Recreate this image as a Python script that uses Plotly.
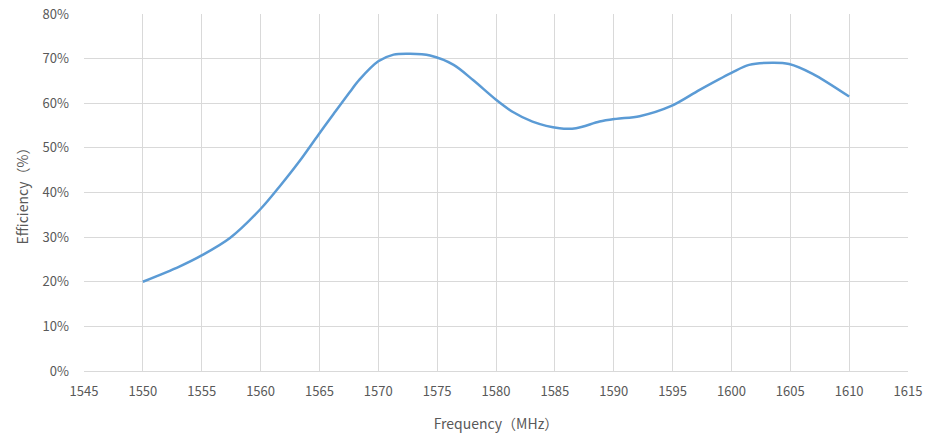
import plotly.graph_objects as go

frequency_mhz = [1550, 1553.1, 1555, 1557.4, 1560, 1561.6, 1563.3, 1564.9, 1566.2, 1567.6,
                 1568.4, 1570, 1571.3, 1572.7, 1574.4, 1576.4, 1578.05, 1580.0, 1581.4, 1583.1,
                 1585.4, 1586.8, 1588.8, 1590.2, 1592.2, 1594.9, 1597.3, 1600.0, 1601.5, 1603.5,
                 1604.9, 1606.9, 1610]
efficiency_pct = [20.0, 23.4, 25.9, 29.8, 36.3, 41.3, 47.0, 52.9, 57.6, 62.6,
                  65.3, 69.4, 70.9, 71.1, 70.7, 68.6, 65.2, 60.8, 58.1, 55.9,
                  54.4, 54.4, 55.9, 56.5, 57.1, 59.4, 63.0, 66.8, 68.6, 69.1,
                  68.8, 66.6, 61.5]

font_family = "Noto Sans CJK SC, Noto Sans, sans-serif"
grid_color = "#d9d9d9"
text_color = "#595959"

fig = go.Figure()
fig.add_trace(go.Scatter(
    x=frequency_mhz, y=efficiency_pct, mode="lines",
    line=dict(color="#5B9BD5", width=2.5, shape="spline", smoothing=0.9),
    showlegend=False, hoverinfo="x+y",
))

fig.update_layout(
    width=924, height=428,
    margin=dict(l=76, r=24, t=6, b=65, autoexpand=False),
    paper_bgcolor="white", plot_bgcolor="white",
    font=dict(family=font_family, color=text_color, size=13),
    xaxis=dict(
        range=[1545, 1615], dtick=5, tick0=1545, automargin=False,
        showgrid=True, gridcolor=grid_color, gridwidth=1,
        showline=True, linecolor=grid_color, linewidth=1,
        zeroline=False, ticks="", ticklabelstandoff=8,
        ticklabeloverflow="allow",
        title=dict(text="Frequency（MHz）", font=dict(size=14, color=text_color), standoff=20),
        tickfont=dict(size=13, color=text_color),
    ),
    yaxis=dict(
        range=[0, 80], dtick=10, ticksuffix="%", automargin=False,
        showgrid=True, gridcolor=grid_color, gridwidth=1,
        showline=False, zeroline=False, ticks="", ticklabelstandoff=14,
        ticklabeloverflow="allow",
        title=dict(text="Efficiency（%）", font=dict(size=14, color=text_color), standoff=10),
        tickfont=dict(size=13, color=text_color),
    ),
)

fig.write_html("out.html")
